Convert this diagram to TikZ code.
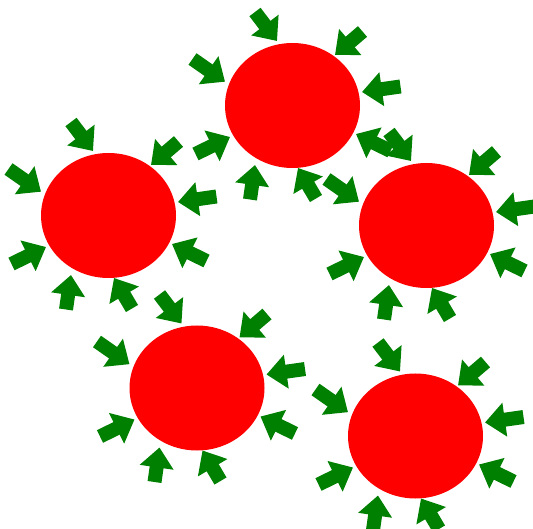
\documentclass[tikz,border=0pt]{standalone}
\usetikzlibrary{arrows.meta,shapes.geometric}
\definecolor{blobred}{RGB}{255,0,0}
\definecolor{arrowgreen}{RGB}{0,128,0}
\tikzset{
  blob/.style={ellipse, fill=blobred, draw=none, inner sep=0pt,
    minimum width=135pt, minimum height=125pt},
  garrow/.style={draw=arrowgreen, line width=14pt,
    -{Triangle[length=20pt,width=33pt]}}
}
\newcommand\ringarrows{%
  \draw[garrow] (-37.5,-93.5) -- (-15.5,-64.5);
  \draw[garrow] (70,-74) -- (42.5,-50.5);
  \draw[garrow] (108,-19) -- (69.5,-13.5);
  \draw[garrow] (98,45.5) -- (63.5,28.5);
  \draw[garrow] (23.5,93) -- (5.5,62.5);
  \draw[garrow] (-42.5,94) -- (-37.5,59.5);
  \draw[garrow] (-97,48.5) -- (-62.5,31.5);
  \draw[garrow] (-100,-46.5) -- (-67.5,-23.8);
}
\begin{document}
\begin{tikzpicture}[x=1pt,y=-1pt]
  \useasboundingbox (0,0) rectangle (533,529);
  \foreach \n/\x/\y in {c1/292.5/105.5, c2/108.5/215.5, c3/426.5/225.5, c4/197/388, c5/415.5/436}
    {\node[blob] (\n) at (\x,\y) {};}
  \foreach \n in {c1,c2,c3,c4,c5}
    {\begin{scope}[shift={(\n.center)}]\ringarrows\end{scope}}
\end{tikzpicture}
\end{document}
